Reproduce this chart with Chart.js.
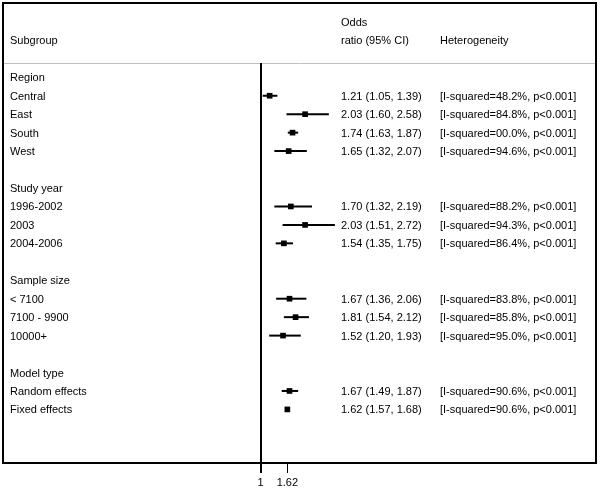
<!DOCTYPE html>
<html>
<head>
<meta charset="utf-8">
<script src="https://cdn.jsdelivr.net/npm/chart.js@4"></script>
<style>
  html, body { margin: 0; padding: 0; background: #fff; }
  canvas { display: block; }
</style>
</head>
<body>
<canvas id="forest" width="601" height="494"></canvas>
<script>
// subgroup headings and the rows under each one
var headings = ["Region", "Study year", "Sample size", "Model type"];
var subgroups = [
    ["Central", "East", "South", "West"],
    ["1996-2002", "2003", "2004-2006"],
    ["< 7100", "7100 - 9900", "10000+"],
    ["Random effects", "Fixed effects"]
];
// odds ratios with 95% CI, one per subgroup row
var oddsRatio = [1.21, 2.03, 1.74, 1.65, 1.70, 2.03, 1.54, 1.67, 1.81, 1.52, 1.67, 1.62];
var ciLow     = [1.05, 1.60, 1.63, 1.32, 1.32, 1.51, 1.35, 1.36, 1.54, 1.20, 1.49, 1.57];
var ciHigh    = [1.39, 2.58, 1.87, 2.07, 2.19, 2.72, 1.75, 2.06, 2.12, 1.93, 1.87, 1.68];
var iSquared  = [48.2, 84.8, 0.0, 94.6, 88.2, 94.3, 86.4, 83.8, 85.8, 95.0, 90.6, 90.6];
var pValue    = ["<0.001", "<0.001", "<0.001", "<0.001", "<0.001", "<0.001", "<0.001", "<0.001", "<0.001", "<0.001", "<0.001", "<0.001"];
var xTicks = [1, 1.62];

var FONT = "11px 'Liberation Sans', Arial, sans-serif";

// work out which row every heading / subgroup sits on (blank row between groups)
var headingRow = [];
var rowOf = [];
var names = [];
var r = 0;
headings.forEach(function(h, g) {
    headingRow.push(r);
    r++;
    subgroups[g].forEach(function(s) {
        rowOf.push(r);
        names.push(s);
        r++;
    });
    r++;
});

var ciPoints = [];
var orPoints = [];
for (var i = 0; i < oddsRatio.length; i++) {
    ciPoints.push({x: ciLow[i], y: rowOf[i]});
    ciPoints.push({x: ciHigh[i], y: rowOf[i]});
    orPoints.push({x: oddsRatio[i], y: rowOf[i]});
}

/*
    plugin that draws the frame, the null line and the text columns
*/
var forestText = {
    id: 'forestText',
    beforeDatasetsDraw: function(chart) {
        var c = chart.ctx, a = chart.chartArea;
        var xs = chart.scales.x;
        c.save();
        // header separator
        c.strokeStyle = '#c0c0c0';
        c.lineWidth = 1;
        c.beginPath();
        c.moveTo(3, a.top + 0.5);
        c.lineTo(a.right, a.top + 0.5);
        c.stroke();
        // outer box
        c.strokeStyle = '#000';
        c.lineWidth = 2;
        c.strokeRect(3, 3, a.right - 3, a.bottom - 3);
        // line of no effect
        var x1 = Math.round(xs.getPixelForValue(1));
        c.beginPath();
        c.moveTo(x1, a.top);
        c.lineTo(x1, a.bottom);
        c.stroke();
        c.restore();
    },
    afterDraw: function(chart) {
        var c = chart.ctx;
        var ys = chart.scales.y;
        c.save();
        c.font = FONT;
        c.fillStyle = '#000';
        c.textBaseline = 'alphabetic';
        c.textAlign = 'left';
        var yy = function(row) { return Math.round(ys.getPixelForValue(row)) + 4; };
        c.fillText("Odds", 341, yy(-3));
        c.fillText("Subgroup", 10, yy(-2));
        c.fillText("ratio (95% CI)", 341, yy(-2));
        c.fillText("Heterogeneity", 440, yy(-2));
        headings.forEach(function(h, g) {
            c.fillText(h, 10, yy(headingRow[g]));
        });
        for (var i = 0; i < names.length; i++) {
            var y = yy(rowOf[i]);
            c.fillText(names[i], 10, y);
            c.fillText(oddsRatio[i].toFixed(2) + " (" + ciLow[i].toFixed(2) + ", " + ciHigh[i].toFixed(2) + ")", 341, y);
            c.fillText("[I-squared=" + iSquared[i].toFixed(1).padStart(4, '0') + "%, p" + pValue[i] + "]", 440, y);
        }
        c.restore();
    }
};

var ctx = document.getElementById('forest').getContext('2d');
var chart = new Chart(ctx, {
    type: 'scatter',
    data: {
        datasets: [{
            label: 'CI',
            data: ciPoints,
            showLine: true,
            borderColor: '#000',
            borderWidth: 2,
            pointRadius: 0,
            segment: {
                borderColor: function(s) {
                    return s.p0.parsed.y === s.p1.parsed.y ? '#000' : 'rgba(0,0,0,0)';
                }
            }
        }, {
            label: 'Odds ratio',
            data: orPoints,
            pointStyle: 'rect',
            pointRadius: 4,
            pointBorderWidth: 0,
            backgroundColor: '#000',
            borderColor: '#000'
        }]
    },
    options: {
        responsive: false,
        animation: false,
        events: [],
        layout: { padding: { left: 3, right: 5, top: 63, bottom: 0 } },
        plugins: { legend: { display: false }, tooltip: { enabled: false } },
        scales: {
            x: {
                type: 'linear',
                min: -4.935,
                max: 8.76,
                afterBuildTicks: function(axis) {
                    axis.ticks = xTicks.map(function(v) { return {value: v}; });
                },
                afterFit: function(s) { s.height = 31; },
                border: { display: false },
                grid: {
                    drawOnChartArea: false,
                    drawTicks: true,
                    tickLength: 10,
                    color: '#000',
                    lineWidth: function(c) { return c.tick && c.tick.value === 1 ? 2 : 1; }
                },
                ticks: {
                    color: '#000',
                    font: { family: "'Liberation Sans', Arial, sans-serif", size: 11 },
                    padding: 3,
                    maxRotation: 0,
                    autoSkip: false,
                    callback: function(v) { return String(v); }
                }
            },
            y: {
                type: 'linear',
                reverse: true,
                min: -0.775,
                max: 20.905,
                display: false
            }
        }
    },
    plugins: [forestText]
});
</script>
</body>
</html>
